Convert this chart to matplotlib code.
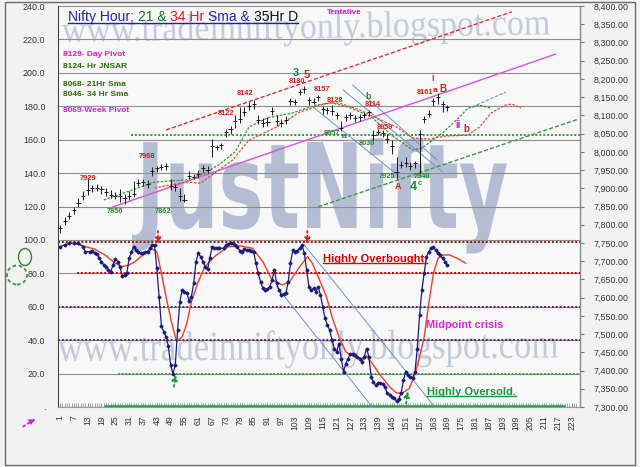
import matplotlib
matplotlib.use("Agg")
import matplotlib.pyplot as plt
import numpy as np
from matplotlib.font_manager import FontProperties
from matplotlib.lines import Line2D
from matplotlib.offsetbox import AnchoredOffsetbox, HPacker, TextArea
from matplotlib.patches import Ellipse, PathPatch, Rectangle
from matplotlib.textpath import TextPath
from matplotlib.transforms import Affine2D, IdentityTransform

plt.rcParams["font.family"] = ["Liberation Sans", "DejaVu Sans"]

# ---- hourly price bars (every 2nd hour) ----
bar_x = list(range(1, 170, 2))
bar_close = [7790, 7810, 7825, 7840, 7860, 7880, 7895, 7900, 7902, 7898, 7890, 7882, 7880, 7878, 7872, 7880, 7885, 7915, 7918, 7912,
             7948, 7955, 7958, 7960, 7905, 7903, 7880, 7868, 7935, 7932, 7938, 7955, 7950, 8015, 8012, 8018, 8055, 8062, 8085, 8090,
             8110, 8125, 8130, 8088, 8080, 8082, 8112, 8085, 8080, 8086, 8140, 8138, 8165, 8172, 8142, 8138, 8150, 8118, 8115, 8112,
             8100, 8065, 8095, 8100, 8092, 8095, 8100, 8108, 8045, 8055, 8052, 8035, 8015, 7945, 7965, 7970, 7962, 7968, 8050, 8090,
             8105, 8140, 8150, 8130, 8122]
bar_high = [7800, 7822, 7835, 7850, 7872, 7892, 7929, 7910, 7912, 7906, 7900, 7895, 7890, 7898, 7885, 7892, 7920, 7925, 7926, 7922,
            7958, 7962, 7966, 7968, 7925, 7912, 7900, 7885, 7948, 7940, 7950, 7965, 7960, 8035, 8020, 8025, 8062, 8070, 8100, 8122,
            8122, 8138, 8142, 8100, 8092, 8095, 8122, 8100, 8090, 8098, 8148, 8145, 8172, 8180, 8150, 8148, 8157, 8125, 8122, 8128,
            8110, 8085, 8105, 8110, 8102, 8105, 8108, 8114, 8060, 8062, 8059, 8048, 8032, 7985, 7975, 7985, 7972, 7975, 8060, 8098,
            8115, 8148, 8161, 8140, 8128]
bar_low = [7778, 7798, 7815, 7830, 7850, 7868, 7882, 7890, 7892, 7885, 7880, 7872, 7870, 7862, 7856, 7868, 7875, 7905, 7905, 7900,
           7935, 7945, 7950, 7950, 7895, 7892, 7866, 7862, 7925, 7925, 7928, 7945, 7942, 7985, 8005, 8008, 8040, 8050, 8065, 8080,
           8098, 8115, 8118, 8075, 8068, 8070, 8100, 8070, 8068, 8075, 8128, 8128, 8155, 8160, 8128, 8130, 8140, 8105, 8105, 8100,
           8090, 8057, 8085, 8090, 8082, 8085, 8092, 8098, 8030, 8045, 8040, 8025, 7995, 7925, 7955, 7958, 7950, 7955, 7940, 8078,
           8095, 8125, 8130, 8110, 8112]

# ---- moving averages on price ----
sma21_x = [20, 30, 42, 56, 64, 70, 77, 83, 91, 102, 112, 119, 126, 136, 145, 154, 158, 167, 173, 178, 183, 188]
sma21_y = [7868, 7890, 7917, 7923, 7942, 7965, 8000, 8068, 8093, 8107, 8128, 8134, 8123, 8096, 8045, 8005, 8010, 8052, 8087, 8120, 8128, 8120]
sma34_x = [42, 56, 62, 71, 76, 83, 95, 105, 117, 122, 131, 143, 147, 154, 161, 168, 178, 183, 188, 194, 197, 201]
sma34_y = [7901, 7917, 7914, 7955, 7978, 8032, 8068, 8109, 8134, 8134, 8115, 8079, 8068, 8038, 8035, 8043, 8046, 8068, 8106, 8128, 8131, 8120]

# ---- oscillator (left scale) ----
osc_x = [1, 3, 5, 7, 9, 11, 12, 14, 15, 16,
         17, 18, 19, 20, 21, 22, 23, 24, 25, 26,
         27, 28, 29, 30, 31, 32, 33, 34, 35, 36,
         37, 38, 39, 40, 41, 42, 43, 44, 45, 46,
         47, 48, 49, 50, 51, 52, 53, 54, 55, 56,
         57, 58, 59, 60, 61, 62, 63, 64, 65, 66,
         67, 68, 69, 70, 72, 73, 74, 75, 76, 77,
         78, 79, 80, 81, 82, 83, 84, 85, 86, 87,
         88, 89, 90, 91, 92, 93, 94, 95, 96, 97,
         98, 99, 100, 101, 102, 103, 104, 105, 106, 107,
         108, 109, 110, 111, 112, 113, 114, 115, 116, 117,
         118, 119, 120, 121, 122, 123, 124, 125, 126, 127,
         128, 129, 130, 131, 132, 133, 134, 135, 136, 137,
         138, 139, 140, 141, 142, 143, 144, 145, 146, 147,
         148, 149, 150, 151, 152, 153, 154, 155, 156, 157,
         158, 159, 160, 161, 162, 163, 164, 165, 166, 167,
         168, 169]
osc_y = [96, 97, 98, 98, 98, 96, 93, 93, 93.5, 92,
         91.5, 89, 87, 85, 84, 82, 81, 85, 88.5, 87,
         84, 78.5, 79, 80, 89, 93, 96, 94, 93, 92,
         92, 92.5, 93, 95, 97, 97, 83, 66, 48.5, 45,
         42, 36.5, 25, 20, 25, 46, 63, 70, 69, 68.5,
         63.5, 66, 74, 87, 92, 90, 87, 84, 82.5, 89,
         96, 95, 95, 95, 95, 97, 97.5, 98, 98, 97,
         96, 93.5, 93, 94.5, 94, 94, 93.5, 93, 86, 80,
         75, 71, 70, 70.5, 72, 76, 82, 74, 70, 67,
         67.5, 68, 75, 86, 94, 93, 93.5, 95, 97, 92,
         82, 72, 70, 71, 69, 72, 67, 60, 53, 49,
         46, 40, 35, 33, 38, 29, 21, 26, 29, 32,
         31.5, 31, 30, 29, 27, 30, 35, 30, 18, 15,
         13, 14.4, 14.2, 14, 12, 8.4, 7, 6, 5.4, 3.6,
         5, 8.4, 16, 21, 19, 18, 17.4, 21, 35, 55,
         70, 80, 90, 93, 95, 95.5, 94, 92, 91, 89,
         87, 85]
osc_avg_x = [7, 12, 16, 20.5, 25, 28, 31, 33.5, 37, 39, 41, 43, 45, 47, 49.5, 51.6, 54, 56, 58, 60.7,
             63.8, 68, 73.7, 79, 84.5, 89, 93, 97.5, 100.6, 105, 108.4, 110.5, 113.6, 116.6, 119, 122, 125, 128.7, 132, 134,
             136.5, 139.5, 144, 147, 149.5, 152.5, 154, 155.5, 157, 159, 161, 163, 165, 167, 170, 174, 177]
osc_avg_y = [98, 96, 94.5, 91, 86, 84, 85, 87, 91, 93, 94.6, 93, 80, 66, 50, 39, 42, 50, 63, 74,
             84, 90, 95.8, 96.5, 95, 87, 76, 73, 75, 84, 90, 86, 76, 66, 54, 42, 33, 30, 29, 30.5,
             26, 20, 12, 8.4, 8.4, 11, 16, 22, 30, 42, 62, 80, 89, 91, 91, 88.6, 86]

# ---- trend lines ----
red_chan_x, red_chan_y = [47, 197], [8060, 8384]
pink_chan_x, pink_chan_y = [24, 216], [7849, 8268]
green_chan_x, green_chan_y = [113, 226], [7849, 8090]
down_x = [[110.8, 148.5], [123.8, 167], [128, 164.5]]
down_y = [[8123, 7931], [8170, 7945], [8183, 7978]]
proj_x, proj_y = [179.8, 194.5], [8123, 8164]
osc_down_x = [[107, 163], [95, 136.5]]
osc_down_y = [[97, 1], [72, 0]]

# ---- labels on price ----
lab_text = ["7929", "7968", "8122", "8142", "8180", "8157", "8128", "8114", "8059", "8161",
            "7856", "7862", "8057", "8030", "7925", "7940"]
lab_x = [13, 38.7, 73, 81.3, 103.8, 114.7, 120.3, 136.8, 142, 159.4,
         24.9, 45.7, 119, 134.2, 142.9, 158]
lab_y = [7928, 7986, 8106, 8159, 8194, 8172, 8142, 8131, 8068, 8164,
         7835, 7835, 8049, 8024, 7931, 7931]
lab_col = ["r"] * 10 + ["g"] * 6
wave_text = ["3", "5", "b", "a", "B", "i", "ii", "b", "A", "4", "c", "a"]
wave_x = [103.4, 108, 134.6, 163.7, 167.2, 162.8, 173.7, 177.1, 147.6, 154.1, 157.2, 124.2]
wave_y = [8216, 8211, 8153, 8167, 8172, 8202, 8074, 8063, 7904, 7904, 7912, 8043]
wave_col = ["g", "r", "g", "r", "r", "m", "m", "r", "r", "g", "g", "g"]
wave_size = [8, 8, 6.5, 6, 7, 7, 7, 7, 6.5, 9, 5.5, 6]
info_text = ["8129- Day Pivot", "8124- Hr JNSAR", "8068- 21Hr Sma", "8046- 34 Hr Sma", "8069-Week Pivot"]
info_y = [8266, 8233, 8186, 8156, 8112]
info_col = ["m", "g", "g", "g", "m"]

xtick_vals = list(range(1, 224, 6))
osc_ticks = list(range(0, 241, 20))
price_ticks = list(range(7300, 8401, 50))

C = {"r": "#e01818", "g": "#1f8a2a", "m": "#d21fd2"}
W, H = 640, 467

fig = plt.figure(figsize=(W / 100, H / 100), dpi=100, facecolor="#f2f2f2")
ax = fig.add_axes([58 / W, 1 - 407 / H, 522 / W, 401 / H], facecolor="#f8f8f8")
ax2 = ax.twinx()


def watermark(s, fp, ref, x0, x1, base, ref_h, color, rot=0.0):
    # text drawn as a path, stretched to the size of the picture's watermark
    tp = TextPath((0, 0), s, size=1, prop=fp)
    ext = tp.get_extents()
    rh = TextPath((0, 0), ref, size=1, prop=fp).get_extents().height
    tr = (Affine2D().translate(-ext.x0, 0)
          .scale((x1 - x0) / ext.width, ref_h / rh)
          .rotate_deg(rot).translate(x0, H - base))
    p = PathPatch(tr.transform_path(tp), transform=IdentityTransform(),
                  facecolor=color, edgecolor="none", zorder=0.3)
    ax.add_artist(p)


serif = FontProperties(family="Liberation Serif")
watermark("www.tradeinniftyonly.blogspot.com", serif, "x", 62, 550, 42, 17, "#c3cadb", 0.9)
watermark("www.tradeinniftyonly.blogspot.com", serif, "x", 58, 558, 361, 19, "#c3cadb", 0.4)
watermark("JustNifty", FontProperties(family="DejaVu Sans", weight="bold"), "N", 132, 507, 228, 86, "#b4bdd3")

# axes setup
ax.set_xlim(0.13, 226.6)
ax.set_ylim(0, 240)
ax2.set_ylim(7300, 8400)
ax.set_yticks(osc_ticks)
ax.set_yticklabels(["."] + [f"{v:.1f}" for v in osc_ticks[1:]])
ax2.set_yticks(price_ticks)
ax2.set_yticklabels([f"{v:,.2f}" for v in price_ticks])
ax.set_xticks(xtick_vals)
ax.set_xticklabels([str(v) for v in xtick_vals], rotation=90, fontsize=6.2, color="#333333")
ax.set_xticks(np.arange(1, 226), minor=True)
ax.tick_params(axis="x", which="both", length=3, direction="in", color="#999999", pad=6)
ax.tick_params(axis="y", length=0, pad=9, labelsize=6.4, labelcolor="#333333")
ax2.tick_params(axis="y", length=3, pad=7, labelsize=6.4, labelcolor="#333333", color="#777777")
ax.grid(axis="y", color="#8c8c8c", lw=0.8)
ax.spines["top"].set_visible(False)
for s in ("top", "left", "bottom"):
    ax2.spines[s].set_visible(False)
ax.spines["left"].set_color("#444444")
ax.spines["bottom"].set_color("#999999")
ax2.spines["right"].set_color("#888888")

# oscillator reference lines
dots = (0, (1, 1))
ax.hlines(99, 0.13, 226.6, color="#c80000", lw=1.4, ls=dots, zorder=2)
ax.hlines(80, 8.5, 226.6, color="#c80000", lw=1.4, ls=dots, zorder=2)
ax.hlines([60, 40], 0.13, 226.6, color="#5a2463", lw=1.4, ls=dots, zorder=2)
ax.hlines(20, 26, 226.6, color="#22a032", lw=1.3, ls=dots, zorder=2)
ax.hlines(0.4, 20, 220, color="#1fa03c", lw=1.8, zorder=2)

for xs, ys in zip(osc_down_x, osc_down_y):
    ax.plot(xs, ys, color="#6f8fd0", lw=0.7, zorder=2)
ax.plot(osc_avg_x, osc_avg_y, color="#e8402a", lw=1.0, zorder=3)
ax.plot(osc_x, osc_y, color="#1c1c78", lw=0.9, marker="D", ms=1.5, zorder=4)

arrow_r = dict(arrowstyle="-|>", color="#e02020", lw=1.3, ls=":", mutation_scale=8)
arrow_g = dict(arrowstyle="-|>", color="#1f9a2f", lw=1.3, ls=":", mutation_scale=8)
ax.annotate("", xy=(43.5, 96), xytext=(43.5, 107), arrowprops=arrow_r)
ax.annotate("", xy=(108.3, 96), xytext=(108.3, 107), arrowprops=arrow_r)
ax.annotate("", xy=(51.3, 21), xytext=(50.3, 10.5), arrowprops=arrow_g)
ax.annotate("", xy=(152, 11), xytext=(151, 0.5), arrowprops=arrow_g)

t_ob = ax.text(115, 88.6, "Highly Overbought.", color="#d40000", fontsize=8.1,
               fontweight="bold", va="center", zorder=5)
ax.text(159.8, 49, "Midpoint crisis", color="#e020e0", fontsize=7.8,
        fontweight="bold", va="center", zorder=5)
t_os = ax.text(160.2, 9, "Highly Oversold.", color="#179a35", fontsize=8,
               fontweight="bold", va="center", zorder=5)

# price panel
ax2.hlines(8046, 32, 226.6, color="#22a032", lw=1.4, ls=dots, zorder=2)
ax2.plot(red_chan_x, red_chan_y, color="#e03030", lw=1.0, ls=(0, (3, 1.5)))
ax2.plot(pink_chan_x, pink_chan_y, color="#e050e0", lw=1.0)
ax2.plot(green_chan_x, green_chan_y, color="#3a9a3a", lw=1.0, ls=(0, (3, 1.5)))
for xs, ys in zip(down_x, down_y):
    ax2.plot(xs, ys, color="#6f8fd0", lw=0.7)
ax2.plot(proj_x, proj_y, color="#6f8fd0", lw=0.8, ls=(0, (3, 1.5)))
ax2.plot(sma21_x, sma21_y, color="#3a8f3a", lw=0.9, ls=(0, (2, 1.2)))
ax2.plot(sma34_x, sma34_y, color="#e04a30", lw=0.9, ls=(0, (2, 1.2)))

bx = np.array(bar_x)
ax2.vlines(bx, bar_low, bar_high, color="#1a1a1a", lw=0.7, zorder=4)
ax2.hlines(bar_close, bx - 0.9, bx + 0.9, color="#1a1a1a", lw=0.7, zorder=4)

for t, x, y, c in zip(lab_text, lab_x, lab_y, lab_col):
    ax2.text(x, y, t, color=C[c], fontsize=5.3, fontweight="bold", ha="center", va="center", zorder=5)
for t, x, y, c, s in zip(wave_text, wave_x, wave_y, wave_col, wave_size):
    ax2.text(x, y, t, color=C[c], fontsize=s, fontweight="bold", ha="center", va="center", zorder=5)
for t, y, c in zip(info_text, info_y, info_col):
    ax2.text(2.3, y, t, color=C[c] if c == "m" else "#2d6a10", fontsize=6,
             fontweight="bold", va="center", zorder=5)
ax2.text(117, 8381, "Tentative", color="#d21fd2", fontsize=5.8, fontweight="bold", va="center")

# title in several colours
parts = [("Nifty Hour; ", "#1f1fb8"), ("21 & ", "#137313"), ("34 Hr ", "#ee1111"),
         ("Sma & ", "#1f1fb8"), ("35Hr D", "#111111")]
box = HPacker(children=[TextArea(s, textprops=dict(color=c, fontsize=10)) for s, c in parts],
              align="baseline", pad=0, sep=0)
title = AnchoredOffsetbox(loc="center left", child=box, frameon=False, pad=0, borderpad=0,
                          bbox_to_anchor=(0.019, 0.9726), bbox_transform=ax.transAxes)
ax.add_artist(title)

# decorations outside the plot
fig.add_artist(Ellipse((25, H - 257), 13, 17, transform=IdentityTransform(),
                       fill=False, ec="#2e8b2e", lw=1))
fig.add_artist(Ellipse((17, H - 275), 20, 19, transform=IdentityTransform(),
                       fill=False, ec="#2e9b2e", lw=1.3, ls=(0, (2, 1.5))))
ax.annotate("", xy=(38, H - 417), xytext=(21, H - 428), xycoords="figure pixels",
            textcoords="figure pixels", annotation_clip=False,
            arrowprops=dict(arrowstyle="-|>", color="#e020e0", lw=1.4, ls=":", mutation_scale=8))
fig.add_artist(Rectangle((5, H - 465), 630, 463, transform=IdentityTransform(),
                         fill=False, ec="#6a6a6a", lw=1))

# underlines
fig.canvas.draw()
rend = fig.canvas.get_renderer()
for art, col in ((title, "#1f1fb8"), (t_ob, "#d40000"), (t_os, "#179a35")):
    bb = art.get_window_extent(rend)
    fig.add_artist(Line2D([bb.x0, bb.x1], [bb.y0 + 1.2, bb.y0 + 1.2],
                          transform=IdentityTransform(), color=col, lw=1))

fig.savefig("out.png", dpi=100, facecolor=fig.get_facecolor())
